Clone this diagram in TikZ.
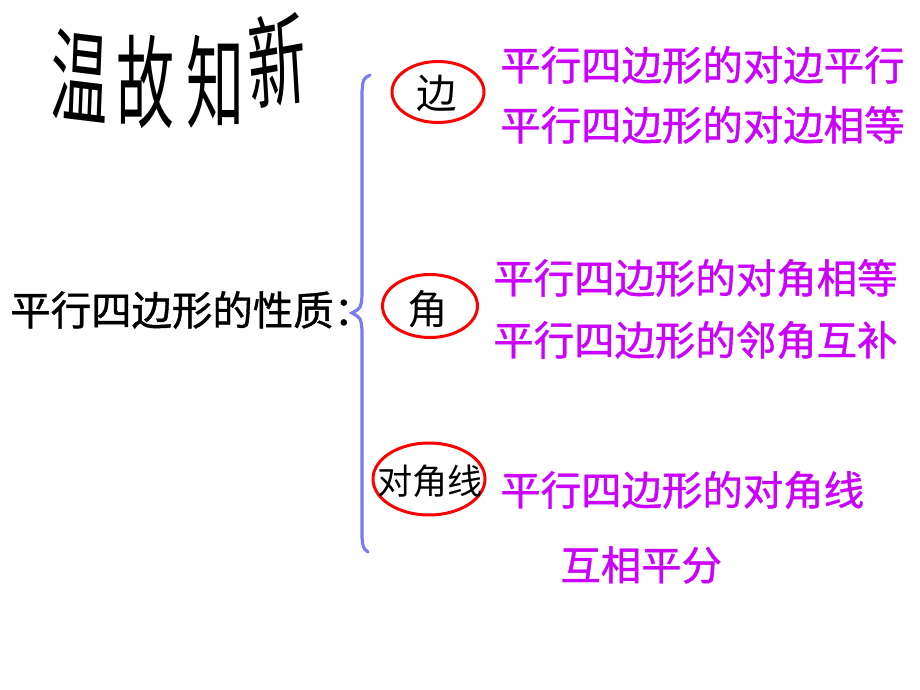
\documentclass[tikz,border=0pt]{standalone}
\usepackage{fontspec}
\usepackage{xcolor}
\usepackage{tikz}
\usetikzlibrary{shapes.geometric}
\newfontfamily\cjk{Noto Sans CJK SC}
\newfontfamily\cjkfett[FakeBold=1]{Noto Sans CJK SC}
\definecolor{rosa}{RGB}{204,0,255}
\definecolor{klammer}{RGB}{122,122,245}

\tikzset{
  titel/.style = {inner sep=0, font=\cjk\fontsize{33}{33}\selectfont, yscale=1.75},
  haupt/.style = {anchor=west, inner sep=0, font=\cjkfett\fontsize{23}{27}\selectfont},
  satz/.style = {anchor=west, inner sep=0, text=rosa, font=\cjkfett\fontsize{23}{28}\selectfont},
  kreis/.style = {ellipse, draw=red, line width=1.7pt, inner sep=0},
  wort/.style = {inner sep=0, font=\cjk\fontsize{23}{28}\selectfont}
}

\begin{document}
\begin{tikzpicture}[x=0.2mm, y=-0.2mm]
\useasboundingbox (0,0) rectangle (920,690);

% title
    \node[titel, rotate=-4] (t1) at (80, 76) {温};
    \node[titel] (t2) at (145, 82) {故};
    \node[titel] (t3) at (215, 82) {知};
    \node[titel, rotate=6] (t4) at (277, 60) {新};

% left label and brace
    \node[haupt] (eig) at (10, 310) {平行四边形的性质：};
    \draw[klammer, line width=1.8pt, line cap=round]
        (370, 75) .. controls (363, 79) .. (362, 92) -- (362, 296)
        .. controls (361, 308) .. (352, 313)
        .. controls (361, 318) .. (362, 330) -- (362, 537)
        .. controls (363, 548) .. (368, 552);

% ellipses
    \node[kreis, minimum width=92*0.2mm, minimum height=61*0.2mm] (k1) at (438, 92) {};
    \node[wort] (w1) at (437, 93) {边};
    \node[kreis, minimum width=95*0.2mm, minimum height=63*0.2mm] (k2) at (430, 306) {};
    \node[wort] (w2) at (428, 309) {角};
    \node[kreis, minimum width=112*0.2mm, minimum height=72*0.2mm] (k3) at (429, 479) {};
    \node[wort, font=\cjk\fontsize{20}{24}\selectfont] (w3) at (430, 481) {对角线};

% properties
    \node[satz] (s1) at (500, 65) {平行四边形的对边平行};
    \node[satz] (s2) at (500, 125) {平行四边形的对边相等};
    \node[satz] (s3) at (493, 278) {平行四边形的对角相等};
    \node[satz] (s4) at (493, 340) {平行四边形的邻角互补};
    \node[satz] (s5) at (500, 490) {平行四边形的对角线};
    \node[satz] (s6) at (560, 565) {互相平分};

\end{tikzpicture}
\end{document}
